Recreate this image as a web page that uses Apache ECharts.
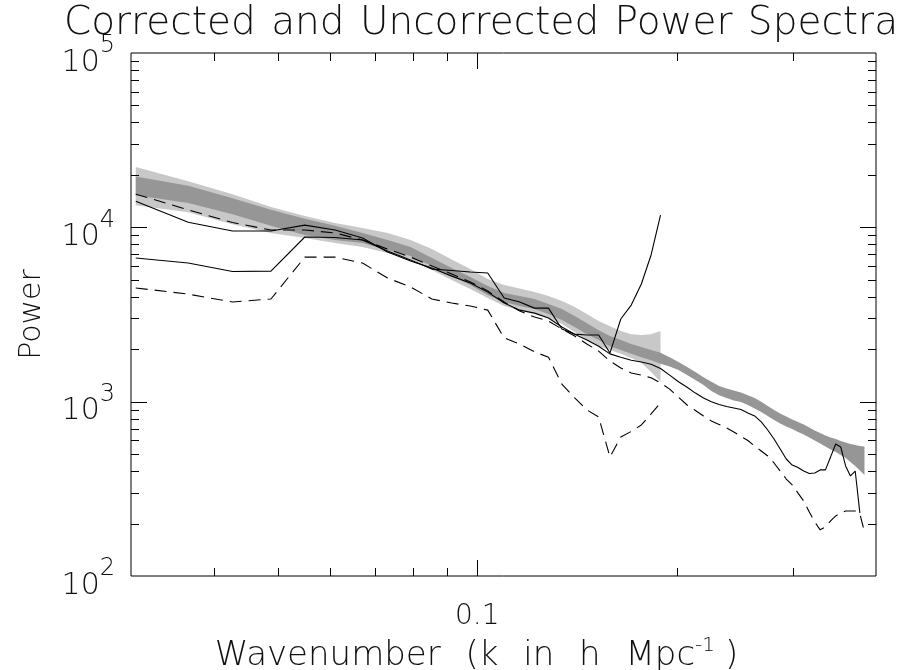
<!DOCTYPE html>
<html>
<head>
<meta charset="utf-8">
<title>Corrected and Uncorrected Power Spectra</title>
<script src="https://cdn.jsdelivr.net/npm/echarts@6/dist/echarts.min.js"></script>
<style>
  html, body { margin: 0; padding: 0; background: #fff; }
  #chart { width: 914px; height: 670px; }
</style>
</head>
<body>
<div id="chart"></div>
<script>
// wavenumber bins (k in h/Mpc)
const K = [0.0305, 0.0366, 0.0427, 0.0488, 0.0549, 0.0610, 0.0671, 0.0732, 0.0793, 0.0854,
           0.0915, 0.0976, 0.1037, 0.1098, 0.1159, 0.1220, 0.1281, 0.1342, 0.1403, 0.1464,
           0.1525, 0.1586, 0.1647, 0.1708, 0.1769, 0.1830, 0.1891, 0.1952, 0.2013, 0.2074,
           0.2135, 0.2196, 0.2257, 0.2318, 0.2379, 0.2440, 0.2501, 0.2562, 0.2623, 0.2684,
           0.2745, 0.2806, 0.2867, 0.2928, 0.2989, 0.3050, 0.3111, 0.3172, 0.3233, 0.3294,
           0.3355, 0.3416, 0.3477, 0.3538, 0.3599, 0.3660, 0.3721, 0.3782, 0.3843];

// wide (light) error band, first 27 bins
const lightHi = [22200, 18400, 15500, 13100, 11600, 10600, 9910, 9280, 8460, 7510,
                 6530, 5760, 5050, 4670, 4460, 4250, 4040, 3780, 3490, 3180,
                 2900, 2710, 2540, 2440, 2410, 2440, 2540];
const lightLo = [13400, 12200, 10400, 9280, 8680, 8130, 7710, 7120, 6580, 5690,
                 4990, 4430, 3930, 3540, 3350, 3220, 3020, 2790, 2510, 2260,
                 2080, 1980, 1880, 1780, 1670, 1480, 1300];

// narrow (dark) band
const darkHi = [19600, 17300, 14700, 12600, 11200, 10200, 9280, 8460, 7710, 6670,
                5840, 5190, 4610, 4200, 4040, 3880, 3630, 3400, 3100, 2820,
                2570, 2380, 2260, 2140, 2060, 1980, 1910, 1800, 1690, 1580,
                1480, 1380, 1300, 1230, 1190, 1160, 1130, 1090, 1050, 1000,
                945, 896, 856, 823, 791, 765, 740, 711, 684, 661,
                640, 623, 611, 595, 583, 572, 564, 557, 553];
const darkLo = [15300, 13800, 11900, 10200, 9030, 8460, 8130, 7410, 6850, 6000,
                5250, 4670, 4090, 3730, 3540, 3400, 3180, 2940, 2680, 2440,
                2260, 2080, 1980, 1880, 1800, 1730, 1650, 1590, 1520, 1420,
                1330, 1245, 1150, 1090, 1050, 1015, 997, 957, 914, 873,
                828, 785, 750, 721, 697, 670, 648, 623, 599, 576,
                553, 532, 515, 495, 475, 451, 428, 403, 380];

// long spectra (to k ~ 0.38)
const solidLong = [14100, 10700, 9520, 9520, 10300, 9650, 8680, 7220, 6410, 5840,
                   5250, 4790, 4250, 3680, 3350, 3220, 3020, 2680, 2440, 2260,
                   2080, 1880, 1800, 1730, 1690, 1640, 1550, 1420, 1300, 1210,
                   1120, 1050, 1000, 964, 939, 920, 902, 861, 828, 765,
                   688, 611, 535, 469, 433, 419, 400, 387, 390, 406,
                   406, 482, 572, 550, 428, 375, 400, 230];
const dashLong = [15500, 12600, 10650, 9650, 9650, 9280, 8460, 7510, 6750, 6000,
                  5400, 4860, 4310, 3730, 3310, 3060, 2900, 2610, 2380, 2140,
                  1950, 1710, 1560, 1460, 1420, 1370, 1280, 1180, 1060, 957,
                  890, 828, 775, 740, 707, 670, 632, 599, 557, 521,
                  488, 445, 400, 360, 333, 299, 269, 233, 204, 184,
                  191, 207, 221, 230, 236, 236, 236, 227, 179];

// short spectra (to k ~ 0.19)
const solidShort = [6670, 6240, 5580, 5610, 8800, 8740, 8460, 7310, 6490, 5760,
                    5650, 5540, 5470, 3930, 3730, 3440, 3440, 2610, 2440, 2410,
                    2410, 1900, 2980, 3580, 4730, 6940, 11760];
const dashShort = [4490, 4140, 3730, 3880, 6750, 6750, 6240, 5120, 4550, 3880,
                   3680, 3540, 3350, 2320, 2140, 1930, 1800, 1260, 1050, 896,
                   817, 482, 627, 675, 735, 850, 983];

// axis ticks
const xLabels = [0.1];
const xMajor = [0.1];
const xMinor = [0.04, 0.05, 0.06, 0.07, 0.08, 0.09, 0.2, 0.3];
const yMajor = [1e3, 1e4];
const yMinor = [200, 300, 400, 500, 600, 700, 800, 900,
                2000, 3000, 4000, 5000, 6000, 7000, 8000, 9000,
                20000, 30000, 40000, 50000, 60000, 70000, 80000, 90000];

const FONT = '"DejaVu Sans", sans-serif';
const INK = '#111';

const chart = echarts.init(document.getElementById('chart'), null, { renderer: 'canvas' });

// the plot font has wide word spaces; widen them with a padded rich token
function wideSpaces(str) {
  return str.split(' ').join('{g| }');
}

function pairs(vals) {
  return vals.map((v, i) => [K[i], v]);
}

function band(hi, lo, color) {
  return {
    type: 'custom',
    silent: true,
    data: [[K[0], hi[0]]],
    renderItem: function (params, api) {
      const pts = [];
      for (let i = 0; i < hi.length; i++) pts.push(api.coord([K[i], hi[i]]));
      for (let i = lo.length - 1; i >= 0; i--) pts.push(api.coord([K[i], lo[i]]));
      return { type: 'polygon', shape: { points: pts }, style: { fill: color } };
    }
  };
}

function line(vals, dashed) {
  return {
    type: 'line',
    data: pairs(vals),
    showSymbol: false,
    silent: true,
    lineStyle: { color: '#000', width: 1.1, type: dashed ? [12, 7] : 'solid' }
  };
}

// inward ticks on all four sides of the box
function ticks(values, onX, len) {
  return {
    type: 'custom',
    silent: true,
    clip: false,
    data: values.map(v => onX ? [v, 1000] : [0.1, v]),
    renderItem: function (params, api) {
      const cs = params.coordSys;
      const p = api.coord([api.value(0), api.value(1)]);
      const st = { stroke: '#000', lineWidth: 1 };
      if (onX) {
        const x = Math.round(p[0]) + 0.5;
        const yb = cs.y + cs.height, yt = cs.y;
        return { type: 'group', children: [
          { type: 'line', shape: { x1: x, y1: yb, x2: x, y2: yb - len }, style: st },
          { type: 'line', shape: { x1: x, y1: yt, x2: x, y2: yt + len }, style: st }
        ] };
      }
      const y = Math.round(p[1]) + 0.5;
      const xl = cs.x, xr = cs.x + cs.width;
      return { type: 'group', children: [
        { type: 'line', shape: { x1: xl, y1: y, x2: xl + len, y2: y }, style: st },
        { type: 'line', shape: { x1: xr, y1: y, x2: xr - len, y2: y }, style: st }
      ] };
    }
  };
}

const option = {
  animation: false,
  backgroundColor: '#fff',
  graphic: [{
    type: 'text',
    x: 481,
    y: 4,
    style: {
      text: wideSpaces('Corrected and Uncorrected Power Spectra'),
      font: '200 39px ' + FONT,
      fill: INK,
      align: 'center',
      verticalAlign: 'top',
      rich: {
        g: { font: '200 39px ' + FONT, fill: INK, padding: [0, 3, 0, 0] }
      }
    }
  }],
  grid: {
    left: 131, right: 38, top: 53, bottom: 94,
    outerBoundsMode: 'none',
    containLabel: false,
    show: true, borderColor: '#000', borderWidth: 1, backgroundColor: 'transparent'
  },
  xAxis: {
    type: 'log',
    logBase: 10,
    min: 0.03,
    max: 0.4,
    name: wideSpaces('Wavenumber (k in h Mpc') + '{s|-1})',
    nameLocation: 'middle',
    nameGap: 50,
    nameTextStyle: {
      fontFamily: FONT, fontWeight: 200, fontSize: 34, color: INK,
      padding: [0, 54, 0, 0],
      rich: {
        g: { fontFamily: FONT, fontWeight: 200, fontSize: 34, color: INK, padding: [0, 14, 0, 0] },
        s: { fontFamily: FONT, fontWeight: 200, fontSize: 20, color: INK, padding: [0, 10, 20, 0] }
      }
    },
    axisLine: { show: false },
    axisTick: { show: false },
    splitLine: { show: false },
    axisLabel: {
      margin: 27,
      fontFamily: FONT, fontWeight: 200, fontSize: 28, color: INK,
      formatter: v => xLabels.some(t => Math.abs(t - v) < 1e-9) ? String(v).slice(0, 3) : ''
    }
  },
  yAxis: {
    type: 'log',
    logBase: 10,
    min: 100,
    max: 100000,
    name: 'Power',
    nameLocation: 'middle',
    nameGap: 84,
    nameTextStyle: { fontFamily: FONT, fontWeight: 200, fontSize: 30, color: INK },
    axisLine: { show: false },
    axisTick: { show: false },
    splitLine: { show: false },
    axisLabel: {
      margin: 16,
      padding: [10, 0, 0, 0],
      formatter: v => '{b|10}{s|' + Math.round(Math.log10(v)) + '}',
      rich: {
        b: { fontFamily: FONT, fontWeight: 200, fontSize: 30, color: INK, padding: [10, 0, 0, 0] },
        s: { fontFamily: FONT, fontWeight: 200, fontSize: 24, color: INK, padding: [0, 0, 24, 0] }
      }
    }
  },
  series: [
    band(lightHi, lightLo, '#c8c8c8'),
    band(darkHi, darkLo, '#969696'),
    line(solidLong, false),
    line(dashLong, true),
    line(solidShort, false),
    line(dashShort, true),
    ticks(xMinor, true, 8),
    ticks(xMajor, true, 16),
    ticks(yMinor, false, 8),
    ticks(yMajor, false, 16)
  ]
};

chart.setOption(option);
</script>
</body>
</html>
